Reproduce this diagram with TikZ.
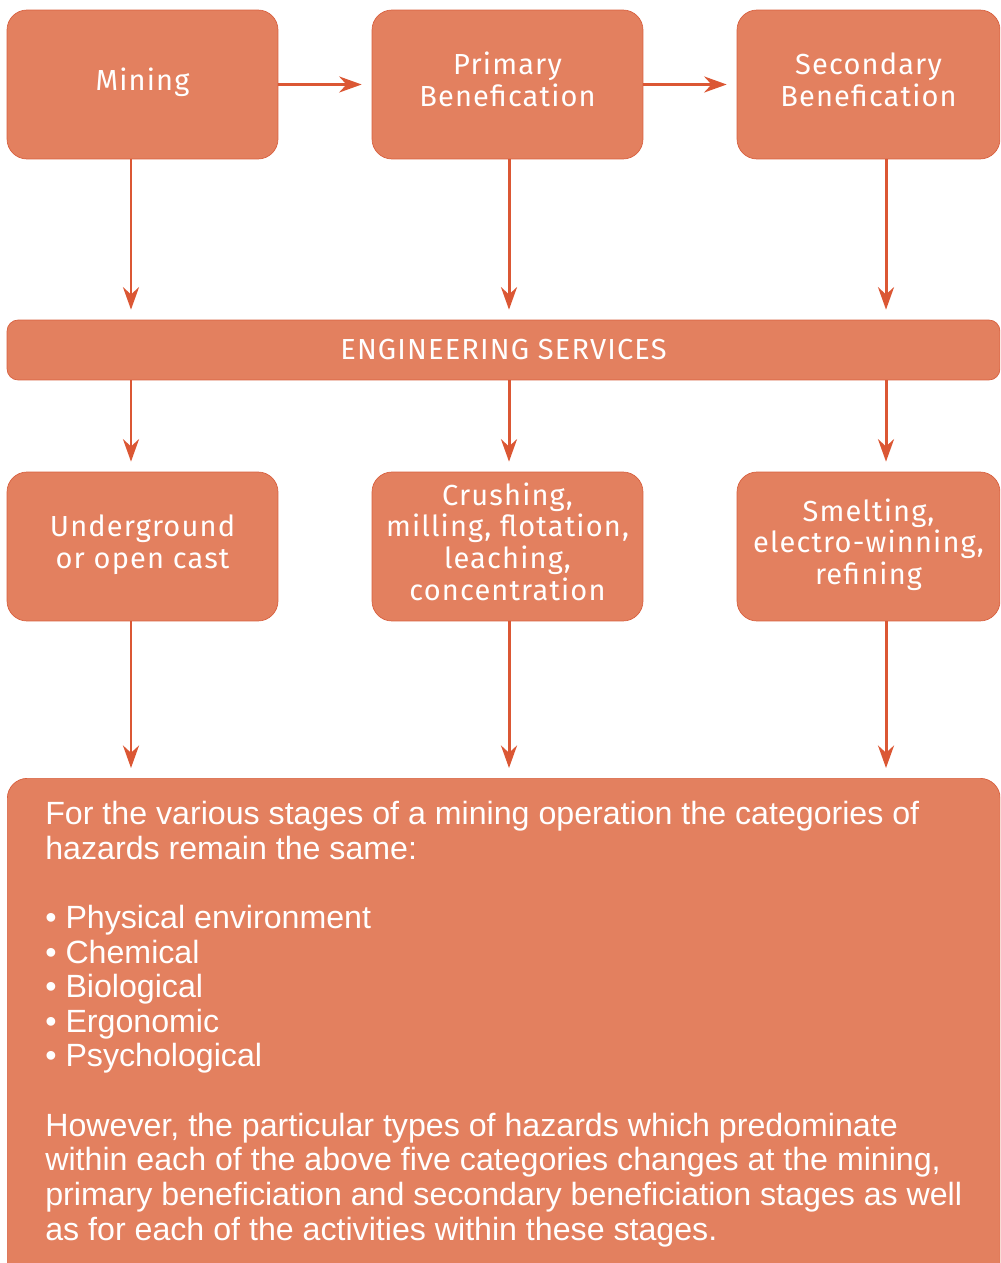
\documentclass[tikz,border=0pt]{standalone}
\usepackage{fontspec}
\setmainfont{Liberation Sans}
\newfontfamily\boxfont[LetterSpace=4]{Fira Sans}
\usetikzlibrary{arrows.meta}
\definecolor{boxfill}{HTML}{E3805F}
\definecolor{boxline}{HTML}{D8603F}
\definecolor{flowred}{HTML}{DB5734}
\tikzset{
  panel/.style={draw=boxline,fill=boxfill,text=white,align=center,inner sep=0pt,
    font=\boxfont\fontsize{16.5}{18}\selectfont},
  stage/.style={panel,rounded corners=.4cm,minimum width=5.42cm,minimum height=2.98cm,text depth=.2cm},
  flow/.style={draw=flowred,line width=1.7pt,-{Stealth[length=.45cm,width=.32cm]},shorten >=.2cm}
}
\begin{document}
\begin{tikzpicture}[x=.02cm,y=-.02cm]
\useasboundingbox (0,0) rectangle (1000,1263);
\clip (0,0) rectangle (1000,1263);
% top row
\node[stage] (mining) at (142.5,84.5) {Mining};
\node[stage] (primary) at (507.5,84.5) {Primary\\Benefication};
\node[stage,minimum width=5.26cm] (secondary) at (868.5,84.5) {Secondary\\Benefication};
% services bar
\node[panel,minimum width=19.86cm,minimum height=1.2cm,rounded corners=.22cm] (services) at (503.5,350) {ENGINEERING SERVICES};
% activities
\node[stage] (under) at (142.5,546.5) {Underground\\or open cast};
\node[stage] (crush) at (507.5,546.5) {Crushing,\\milling, flotation,\\leaching,\\concentration};
\node[stage,minimum width=5.26cm] (smelt) at (868.5,546.5) {Smelting,\\electro-winning,\\refining};
% hazards box
\node[panel,rounded corners=.4cm,anchor=north west,minimum width=19.86cm,minimum height=10.4cm] (hazards) at (7,778) {};
\node[anchor=north west,text=white,align=left,inner sep=0pt,font=\fontsize{18.3}{19.7}\selectfont] (hztext) at (45,801)
{For the various stages of a mining operation the categories of\\
hazards remain the same:\\[19.7pt]
\textbullet\ Physical environment\\
\textbullet\ Chemical\\
\textbullet\ Biological\\
\textbullet\ Ergonomic\\
\textbullet\ Psychological\\[19.7pt]
However, the particular types of hazards which predominate\\
within each of the above five categories changes at the mining,\\
primary beneficiation and secondary beneficiation stages as well\\
as for each of the activities within these stages.};
% columns
\coordinate (c1) at (131,0); \coordinate (c2) at (509,0); \coordinate (c3) at (886,0);
\draw[flow] (mining.east) -- (primary.west);
\draw[flow] (primary.east) -- (secondary.west);
\draw[flow] (mining.south -| c1) -- (services.north -| c1);
\draw[flow] (primary.south -| c2) -- (services.north -| c2);
\draw[flow] (secondary.south -| c3) -- (services.north -| c3);
\draw[flow] (services.south -| c1) -- (under.north -| c1);
\draw[flow] (services.south -| c2) -- (crush.north -| c2);
\draw[flow] (services.south -| c3) -- (smelt.north -| c3);
\draw[flow] (under.south -| c1) -- (hazards.north -| c1);
\draw[flow] (crush.south -| c2) -- (hazards.north -| c2);
\draw[flow] (smelt.south -| c3) -- (hazards.north -| c3);
\end{tikzpicture}
\end{document}
